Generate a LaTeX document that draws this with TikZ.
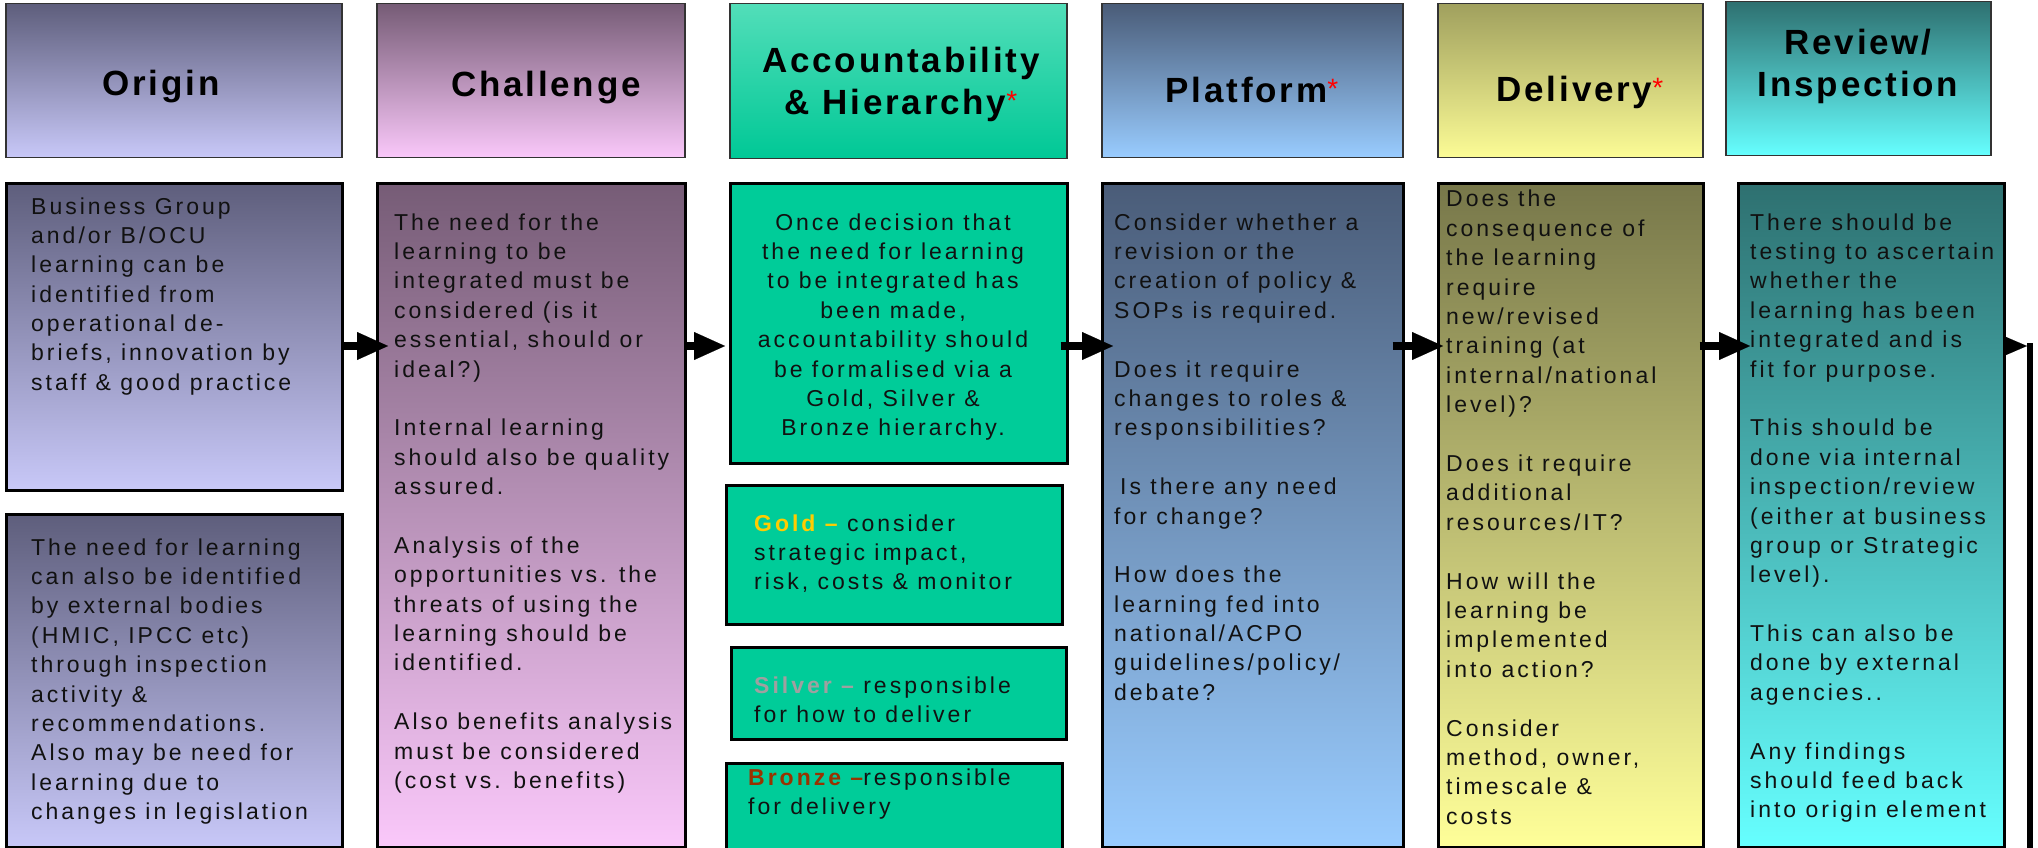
\documentclass[tikz,border=0pt]{standalone}
\usepackage{fontspec}
\setmainfont{Liberation Sans}
\newfontfamily\bodyfont[LetterSpace=13]{Liberation Sans}
\newfontfamily\headfont[LetterSpace=8]{Liberation Sans}
\usetikzlibrary{arrows.meta}
\definecolor{origTop}{HTML}{5E5E7C}
\definecolor{origBot}{HTML}{C8C8F8}
\definecolor{chalTop}{HTML}{765C76}
\definecolor{chalBot}{HTML}{FAC8FA}
\definecolor{accTop}{HTML}{52DEB9}
\definecolor{accBot}{HTML}{00C896}
\definecolor{accBody}{HTML}{00CC99}
\definecolor{platTop}{HTML}{4A5C78}
\definecolor{platBot}{HTML}{99CCFF}
\definecolor{delHTop}{HTML}{A0A05E}
\definecolor{delHBot}{HTML}{FCFC96}
\definecolor{delBTop}{HTML}{77774A}
\definecolor{delBBot}{HTML}{FFFF99}
\definecolor{revTop}{HTML}{2E7070}
\definecolor{revBot}{HTML}{66FFFF}
\definecolor{goldc}{HTML}{FFCC00}
\definecolor{silvc}{HTML}{A0A0A0}
\definecolor{bronzec}{HTML}{993300}
\definecolor{txtc}{HTML}{111111}
\tikzset{
  hdr/.style={draw=black!80, line width=1.5pt, anchor=north west, inner sep=0pt},
  bodybox/.style={draw=black, line width=2.5pt, anchor=north west, inner sep=0pt},
  htxt/.style={inner sep=0pt, anchor=base, text=black, font=\headfont\bfseries\fontsize{35}{42}\selectfont},
  btxt/.style={inner sep=0pt, anchor=base west, text=txtc, font=\bodyfont\fontsize{23}{29.4}\selectfont},
  ctxt/.style={inner sep=0pt, anchor=base, text=txtc, font=\bodyfont\fontsize{23}{29.4}\selectfont},
  arr/.style={line width=8pt, -{Triangle[length=31pt,width=28pt,line width=0.1pt]}},
  arrthin/.style={line width=1pt, -{Triangle[length=21pt,width=18pt,line width=0.1pt]}}
}
\newcommand\redstar{{\color{red}\raisebox{4pt}{\fontsize{28}{28}\selectfont\mdseries *}}}
\newcommand\gap{\\[29.4pt]}
\begin{document}
\begin{tikzpicture}[x=1pt,y=-1pt]
\useasboundingbox (0,0) rectangle (2038,848);
\clip (0,0) rectangle (2038,848);
% headers
\node[hdr, top color=origTop, bottom color=origBot, minimum width=336pt, minimum height=154pt] (oh) at (5,3) {};
\node[hdr, top color=chalTop, bottom color=chalBot, minimum width=308pt, minimum height=154pt] (chh) at (376,3) {};
\node[hdr, top color=accTop, bottom color=accBot, minimum width=337pt, minimum height=155pt] (ah) at (729,3) {};
\node[hdr, top color=platTop, bottom color=platBot, minimum width=301pt, minimum height=154pt] (ph) at (1101,3) {};
\node[hdr, top color=delHTop, bottom color=delHBot, minimum width=265pt, minimum height=154pt] (dh) at (1437,3) {};
\node[hdr, top color=revTop, bottom color=revBot, minimum width=265pt, minimum height=154pt] (rh) at (1725,0.8) {};
% header texts
\node[htxt] (toh) at (161,96) {Origin};
\node[htxt] (tch) at (546,97) {Challenge};
\node[htxt] (tah) at (901,73) {\parbox[t]{330pt}{\centering Accountability\\ \& Hierarchy\redstar}};
\node[htxt] (tph) at (1252,103) {Platform\redstar};
\node[htxt] (tdh) at (1580,102) {Delivery\redstar};
\node[htxt] (trh) at (1858,55) {\parbox[t]{260pt}{\centering Review/\\Inspection}};
% body boxes
\node[bodybox, top color=origTop, bottom color=origBot, minimum width=336pt, minimum height=307pt] (ob1) at (5,182) {};
\node[bodybox, top color=origTop, bottom color=origBot, minimum width=336pt, minimum height=333pt] (ob2) at (5,513) {};
\node[bodybox, top color=chalTop, bottom color=chalBot, minimum width=308pt, minimum height=664pt] (cb) at (376,182) {};
\node[bodybox, fill=accBody, minimum width=337pt, minimum height=280pt] (ab) at (729,182) {};
\node[bodybox, fill=accBody, minimum width=336pt, minimum height=139pt] (gb) at (725,484) {};
\node[bodybox, fill=accBody, minimum width=335pt, minimum height=92pt] (sb) at (730,646) {};
\node[bodybox, fill=accBody, minimum width=336pt, minimum height=130pt] (brb) at (725,762) {};
\node[bodybox, top color=platTop, bottom color=platBot, minimum width=301pt, minimum height=664pt] (pb) at (1101,182) {};
\node[bodybox, top color=delBTop, bottom color=delBBot, minimum width=265pt, minimum height=664pt] (db) at (1437,182) {};
\node[bodybox, top color=revTop, bottom color=revBot, minimum width=266pt, minimum height=664pt] (rb) at (1737,182) {};
% body texts
\node[btxt] (tob1) at (31,214) {\parbox[t]{320pt}{\raggedright Business Group\\and/or B/OCU\\learning can be\\identified from\\operational de-\\briefs, innovation by\\staff \& good practice}};
\node[btxt] (tob2) at (31,555) {\parbox[t]{320pt}{\raggedright The need for learning\\can also be identified\\by external bodies\\(HMIC, IPCC etc)\\through inspection\\activity \&\\recommendations.\\Also may be need for\\learning due to\\changes in legislation}};
\node[btxt] (tcb) at (394,230) {\parbox[t]{320pt}{\raggedright The need for the\\learning to be\\integrated must be\\considered (is it\\essential, should or\\ideal?)\gap Internal learning\\should also be quality\\assured.\gap Analysis of the\\opportunities vs. the\\threats of using the\\learning should be\\identified.\gap Also benefits analysis\\must be considered\\(cost vs. benefits)}};
\node[ctxt] (tab) at (893,230) {\parbox[t]{330pt}{\centering Once decision that\\the need for learning\\to be integrated has\\been made,\\accountability should\\be formalised via a\\Gold, Silver \&\\Bronze hierarchy.}};
\node[btxt] (tgb) at (754,531) {\parbox[t]{320pt}{\raggedright\leavevmode{\bfseries\color{goldc}Gold –} consider\\strategic impact,\\risk, costs \& monitor}};
\node[btxt] (tsb) at (754,693) {\parbox[t]{320pt}{\raggedright\leavevmode{\bfseries\color{silvc}Silver –} responsible\\for how to deliver}};
\node[btxt] (tbrb) at (748,785) {\parbox[t]{320pt}{\raggedright\leavevmode{\bfseries\color{bronzec}Bronze –}responsible\\for delivery}};
\node[btxt] (tpb) at (1114,230) {\parbox[t]{320pt}{\raggedright Consider whether a\\revision or the\\creation of policy \&\\SOPs is required.\gap Does it require\\changes to roles \&\\responsibilities?\gap\hspace*{6pt}Is there any need\\for change?\gap How does the\\learning fed into\\national/ACPO\\guidelines/policy/\\debate?}};
\node[btxt] (tdb) at (1446,207) {\parbox[t]{320pt}{\raggedright Does the\\consequence of\\the learning\\require\\new/revised\\training (at\\internal/national\\level)?\gap Does it require\\additional\\resources/IT?\gap How will the\\learning be\\implemented\\into action?\gap Consider\\method, owner,\\timescale \&\\costs}};
\node[btxt] (trb) at (1750,230) {\parbox[t]{320pt}{\raggedright There should be\\testing to ascertain\\whether the\\learning has been\\integrated and is\\fit for purpose.\gap This should be\\done via internal\\inspection/review\\(either at business\\group or Strategic\\level).\gap This can also be\\done by external\\agencies..\gap Any findings\\should feed back\\into origin element}};
% connectors
\coordinate (ay) at (0,346);
\coordinate (fb) at (2030,343);
\coordinate (fbend) at (2030,870);
\draw[arr, shorten >=-12pt, shorten <=-2pt] (ob1.east |- ay) -- (cb.west |- ay);
\draw[arr, shorten >=4pt] (cb.east |- ay) -- (ab.west |- ay);
\draw[arr, shorten >=-12pt, shorten <=-8pt] (ab.east |- ay) -- (pb.west |- ay);
\draw[arr, shorten >=-6pt, shorten <=-12pt] (pb.east |- ay) -- (db.west |- ay);
\draw[arr, shorten >=-13pt, shorten <=-5pt] (db.east |- ay) -- (rb.west |- ay);
\draw[arrthin, shorten >=3pt] (rb.east |- ay) -- (fb |- ay);
\draw[line width=6pt] (fb) -- (fbend);
\end{tikzpicture}
\end{document}
